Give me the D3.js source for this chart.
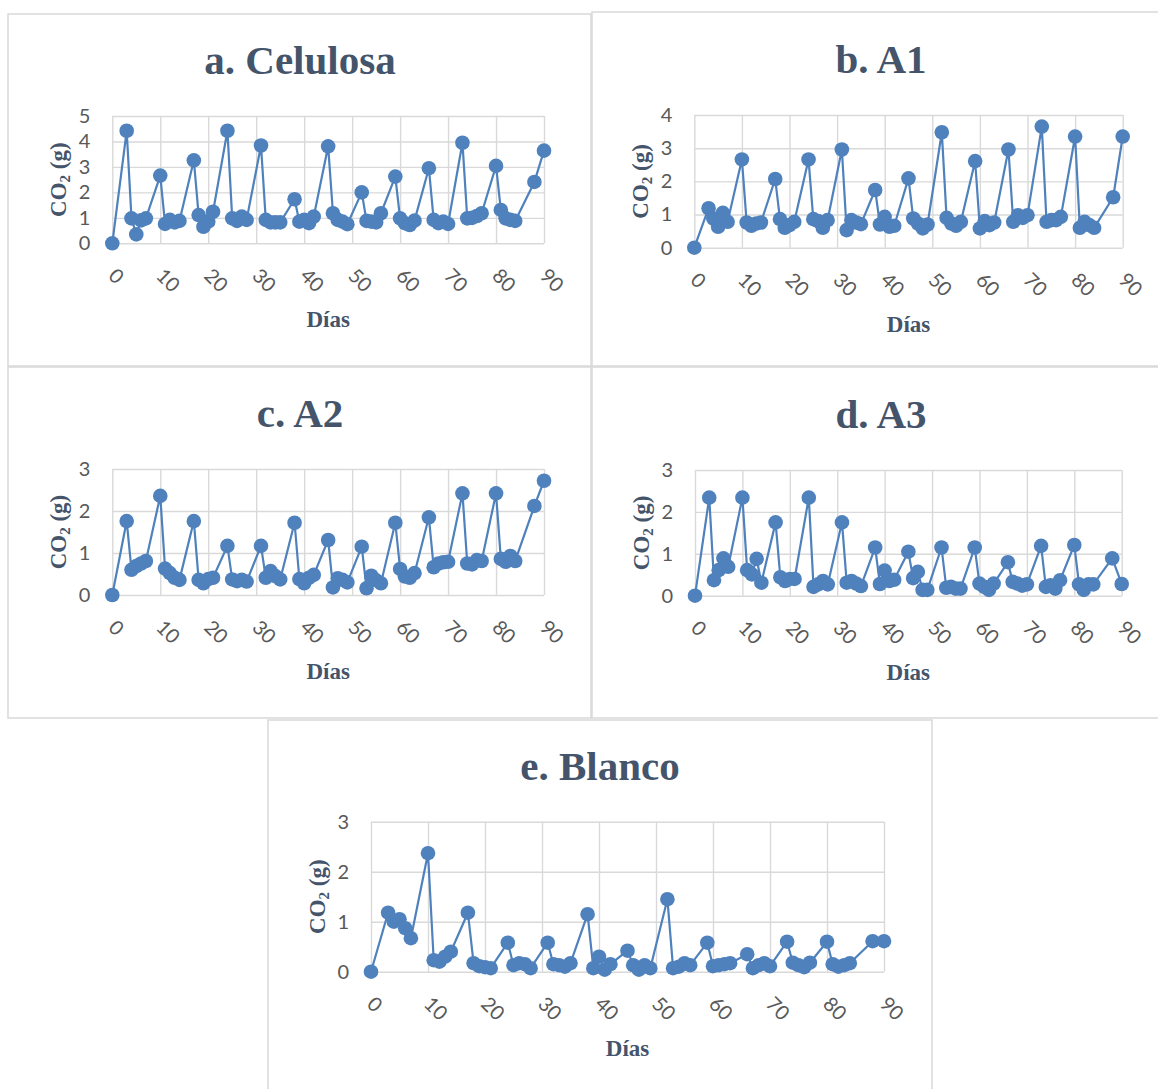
<!DOCTYPE html>
<html>
<head>
<meta charset="utf-8">
<script src="https://cdn.jsdelivr.net/npm/d3@7"></script>
<style>
  html, body { margin: 0; padding: 0; background: #ffffff; }
  svg { display: block; }
</style>
</head>
<body>
<svg id="fig" width="1158" height="1089"></svg>
<script>
// Sampling days (weekday measurements)
const days = [0,
  3, 4, 5, 6, 7,
  10, 11, 12, 13, 14,
  17, 18, 19, 20, 21,
  24, 25, 26, 27, 28,
  31, 32, 33, 34, 35,
  38, 39, 40, 41, 42,
  45, 46, 47, 48, 49,
  52, 53, 54, 55, 56,
  59, 60, 61, 62, 63,
  66, 67, 68, 69, 70,
  73, 74, 75, 76, 77,
  80, 81, 82, 83, 84,
  88, 90];

// CO2 released (g) per treatment
const celulosa = [0,
  4.42, 0.98, 0.35, 0.90, 0.98,
  2.66, 0.76, 0.92, 0.82, 0.88,
  3.26, 1.11, 0.65, 0.85, 1.24,
  4.42, 0.98, 0.88, 1.05, 0.92,
  3.84, 0.92, 0.82, 0.82, 0.82,
  1.73, 0.85, 0.92, 0.79, 1.05,
  3.81, 1.18, 0.92, 0.85, 0.75,
  2.00, 0.88, 0.85, 0.82, 1.18,
  2.62, 0.98, 0.79, 0.72, 0.89,
  2.95, 0.92, 0.79, 0.85, 0.76,
  3.95, 0.98, 1.00, 1.07, 1.18,
  3.04, 1.31, 0.98, 0.92, 0.88,
  2.41, 3.64];

const a1 = [0,
  1.19, 0.88, 0.63, 1.05, 0.78,
  2.66, 0.76, 0.66, 0.73, 0.76,
  2.07, 0.86, 0.60, 0.68, 0.78,
  2.66, 0.86, 0.80, 0.60, 0.83,
  2.96, 0.53, 0.83, 0.76, 0.71,
  1.74, 0.70, 0.93, 0.63, 0.66,
  2.09, 0.88, 0.73, 0.58, 0.70,
  3.48, 0.90, 0.73, 0.66, 0.78,
  2.61, 0.58, 0.80, 0.68, 0.76,
  2.96, 0.78, 0.98, 0.90, 0.98,
  3.65, 0.78, 0.83, 0.83, 0.93,
  3.35, 0.60, 0.78, 0.68, 0.60,
  1.52, 3.35];

const a2 = [0,
  1.76, 0.60, 0.69, 0.75, 0.81,
  2.36, 0.63, 0.52, 0.41, 0.36,
  1.76, 0.36, 0.28, 0.38, 0.41,
  1.17, 0.37, 0.33, 0.36, 0.32,
  1.17, 0.41, 0.57, 0.45, 0.37,
  1.72, 0.38, 0.28, 0.41, 0.48,
  1.31, 0.18, 0.40, 0.36, 0.30,
  1.15, 0.16, 0.46, 0.35, 0.28,
  1.72, 0.62, 0.44, 0.41, 0.52,
  1.85, 0.66, 0.75, 0.78, 0.79,
  2.42, 0.75, 0.73, 0.83, 0.81,
  2.42, 0.86, 0.79, 0.93, 0.81,
  2.12, 2.72];

const a3 = [0,
  2.34, 0.37, 0.61, 0.89, 0.69,
  2.34, 0.61, 0.51, 0.88, 0.31,
  1.75, 0.44, 0.35, 0.40, 0.40,
  2.34, 0.21, 0.27, 0.35, 0.27,
  1.75, 0.31, 0.35, 0.29, 0.23,
  1.15, 0.28, 0.60, 0.35, 0.38,
  1.05, 0.42, 0.57, 0.14, 0.14,
  1.15, 0.19, 0.21, 0.17, 0.17,
  1.15, 0.29, 0.21, 0.14, 0.29,
  0.80, 0.33, 0.29, 0.24, 0.27,
  1.19, 0.21, 0.25, 0.17, 0.37,
  1.21, 0.27, 0.14, 0.27, 0.27,
  0.89, 0.28];

const blanco = [0,
  1.18, 1.00, 1.05, 0.87, 0.67,
  2.37, 0.23, 0.20, 0.30, 0.40,
  1.18, 0.17, 0.11, 0.09, 0.07,
  0.58, 0.13, 0.17, 0.15, 0.07,
  0.58, 0.15, 0.13, 0.10, 0.17,
  1.15, 0.07, 0.30, 0.04, 0.15,
  0.42, 0.13, 0.04, 0.13, 0.07,
  1.45, 0.07, 0.10, 0.17, 0.13,
  0.58, 0.11, 0.13, 0.15, 0.17,
  0.35, 0.07, 0.13, 0.17, 0.11,
  0.60, 0.18, 0.13, 0.09, 0.18,
  0.60, 0.15, 0.10, 0.13, 0.17,
  0.61, 0.61];

// Axis ticks and labels
const xTicks = [0, 10, 20, 30, 40, 50, 60, 70, 80, 90];
const yTicks5 = [0, 1, 2, 3, 4, 5];
const yTicks4 = [0, 1, 2, 3, 4];
const yTicks3 = [0, 1, 2, 3];
const titles = ["a. Celulosa", "b. A1", "c. A2", "d. A3", "e. Blanco"];
const xTitle = "Días";

const svg = d3.select("#fig");
svg.append("rect").attr("width", 1158).attr("height", 1089).attr("fill", "#ffffff");

// Frames around each chart
const frames = [
  [8, 14, 583, 352],
  [592, 12, 600, 354],
  [8, 367, 583, 351],
  [592, 367, 600, 351],
  [268, 720, 664, 400]
];
svg.append("g").selectAll("rect").data(frames).join("rect")
  .attr("x", d => d[0]).attr("y", d => d[1])
  .attr("width", d => d[2]).attr("height", d => d[3])
  .attr("fill", "none").attr("stroke", "#d9d9d9").attr("stroke-width", 1.5);

const panels = [
  { title: titles[0], values: celulosa, yTicks: yTicks5, x: 112.3, y: 116,   w: 431.7, h: 127.3, cx: 300 },
  { title: titles[1], values: a1,       yTicks: yTicks4, x: 694.3, y: 115,   w: 428.4, h: 132.7, cx: 881 },
  { title: titles[2], values: a2,       yTicks: yTicks3, x: 112.3, y: 469,   w: 431.7, h: 126,   cx: 300 },
  { title: titles[3], values: a3,       yTicks: yTicks3, x: 695,   y: 470,   w: 426.7, h: 125.7, cx: 881 },
  { title: titles[4], values: blanco,   yTicks: yTicks3, x: 371,   y: 821.7, w: 513,   h: 150,   cx: 600 }
];

const BLUE = "#4f81bd";
const GRID = "#d9d9d9";
const TICK_FONT = "Lato, 'Open Sans', sans-serif";
const SERIF = "'Liberation Serif', 'Times New Roman', serif";
const TITLE_COLOR = "#44546a";

panels.forEach(p => {
  const yMax = p.yTicks[p.yTicks.length - 1];
  const x = d3.scaleLinear().domain([0, 90]).range([0, p.w]);
  const y = d3.scaleLinear().domain([0, yMax]).range([p.h, 0]);

  // Chart title
  svg.append("text")
    .attr("x", p.cx).attr("y", p.y - 42)
    .attr("text-anchor", "middle")
    .attr("font-family", SERIF).attr("font-weight", "bold")
    .attr("font-size", 41).attr("fill", TITLE_COLOR)
    .text(p.title);

  const g = svg.append("g").attr("transform", `translate(${p.x},${p.y})`);

  // Horizontal gridlines + value labels
  const yAxis = g.append("g")
    .call(d3.axisLeft(y).tickValues(p.yTicks).tickSize(-p.w).tickPadding(22).tickFormat(d3.format("d")));
  yAxis.select(".domain").remove();
  yAxis.selectAll(".tick line").attr("stroke", GRID).attr("stroke-width", 1.4);
  yAxis.selectAll(".tick text")
    .attr("font-family", TICK_FONT).attr("font-size", 20).attr("fill", "#595959");

  // Vertical gridlines + rotated day labels
  const xAxis = g.append("g").attr("transform", `translate(0,${p.h})`)
    .call(d3.axisBottom(x).tickValues(xTicks).tickSize(-p.h).tickFormat(d3.format("d")));
  xAxis.select(".domain").remove();
  xAxis.selectAll(".tick line").attr("stroke", GRID).attr("stroke-width", 1.4);
  xAxis.selectAll(".tick text")
    .attr("x", 0).attr("y", 0).attr("dy", null)
    .attr("transform", "translate(0,28) rotate(45)")
    .attr("text-anchor", "start")
    .attr("dominant-baseline", "central")
    .attr("font-family", TICK_FONT).attr("font-size", 20).attr("fill", "#595959");

  // Axis titles
  g.append("text")
    .attr("x", p.w / 2).attr("y", p.h + 84)
    .attr("text-anchor", "middle")
    .attr("font-family", SERIF).attr("font-weight", "bold")
    .attr("font-size", 23).attr("fill", TITLE_COLOR)
    .text(xTitle);

  const yt = g.append("text")
    .attr("transform", `translate(-46,${p.h / 2}) rotate(-90)`)
    .attr("text-anchor", "middle")
    .attr("font-family", SERIF).attr("font-weight", "bold")
    .attr("font-size", 23).attr("fill", TITLE_COLOR);
  yt.append("tspan").text("CO");
  yt.append("tspan").attr("font-size", 15).attr("dy", 4).text("2");
  yt.append("tspan").attr("dy", -4).text(" (g)");

  // Series line and markers
  const pts = days.map((d, i) => [d, p.values[i]]);
  g.append("path")
    .datum(pts)
    .attr("fill", "none").attr("stroke", BLUE).attr("stroke-width", 2.2)
    .attr("stroke-linejoin", "round")
    .attr("d", d3.line().x(d => x(d[0])).y(d => y(d[1])));

  g.append("g").selectAll("circle").data(pts).join("circle")
    .attr("cx", d => x(d[0])).attr("cy", d => y(d[1]))
    .attr("r", 7.3).attr("fill", BLUE);
});
</script>
</body>
</html>
